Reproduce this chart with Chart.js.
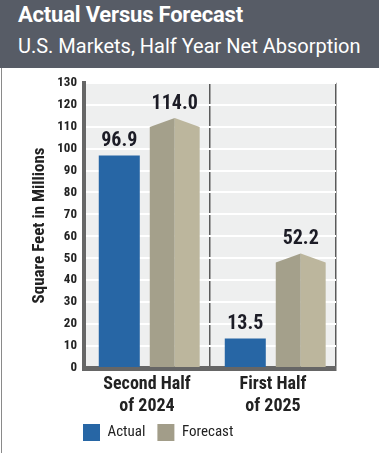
<!DOCTYPE html>
<html>
<head>
<meta charset="utf-8">
<script src="https://cdn.jsdelivr.net/npm/chart.js@4.4.1/dist/chart.umd.min.js"></script>
<style>
html, body { margin: 0; padding: 0; background: #fff; }
#head { position: absolute; left: 0; top: 0; width: 379px; height: 68px; background: #575c66; color: #fff; }
#t1 { position: absolute; left: 18px; top: 4px; font: bold 22px/22px Roboto, sans-serif; white-space: nowrap; letter-spacing: -0.2px; }
#t2 { position: absolute; left: 18px; top: 36px; font: 20px/20px Roboto, sans-serif; white-space: nowrap; }
#wrap { position: absolute; left: 1px; top: 68px; width: 377px; height: 385px; border-left: 1px solid #8a8a8a; }
</style>
</head>
<body>
<div id="head">
  <div id="t1">Actual Versus Forecast</div>
  <div id="t2">U.S. Markets, Half Year Net Absorption</div>
</div>
<div id="wrap"><canvas id="chart" width="377" height="385"></canvas></div>
<script>
// ---------------- DATA ----------------
const categories = [["Second Half", "of 2024"], ["First Half", "of 2025"]];
const seriesNames = ["Actual", "Forecast"];
const actual = [96.9, 13.5];
const forecast = [114.0, 52.2];
const yMin = 0, yMax = 130, yStep = 10;

// colours
const blue = "#2766a5";
const tanDark = "#a4a08b";
const tanLight = "#bcb69d";
const legendColors = [blue, "#a29d89"];
const COND = "'Roboto Condensed', 'Roboto', sans-serif";

// серый фон области графика
const plotBg = {
  id: "plotBg",
  beforeDraw(chart) {
    const { ctx, chartArea: a } = chart;
    ctx.save();
    ctx.fillStyle = "#eeefef";
    ctx.fillRect(a.left, a.top, a.right - a.left, a.bottom - a.top);
    ctx.restore();
  }
};

// forecast bars with a pointed two-tone top + value labels
const prism = {
  id: "prism",
  afterDatasetsDraw(chart) {
    const ctx = chart.ctx;
    ctx.save();
    chart.getDatasetMeta(1).data.forEach(bar => {
      const { x, y, base, width } = bar.getProps(["x", "y", "base", "width"], true);
      const l = x - width / 2, r = x + width / 2, sh = y + 9;
      ctx.fillStyle = tanDark;
      ctx.beginPath();
      ctx.moveTo(l, base); ctx.lineTo(l, sh); ctx.lineTo(x, y); ctx.lineTo(x, base);
      ctx.closePath(); ctx.fill();
      ctx.fillStyle = tanLight;
      ctx.beginPath();
      ctx.moveTo(x, base); ctx.lineTo(x, y); ctx.lineTo(r, sh); ctx.lineTo(r, base);
      ctx.closePath(); ctx.fill();
    });
    ctx.font = "bold 20px " + COND;
    ctx.fillStyle = "#1c1c26";
    ctx.textAlign = "center";
    ctx.textBaseline = "bottom";
    chart.data.datasets.forEach((ds, i) => {
      chart.getDatasetMeta(i).data.forEach((bar, j) => {
        const { x, y } = bar.getProps(["x", "y"], true);
        ctx.fillText(ds.data[j].toFixed(1), x, y - 4);
      });
    });
    ctx.restore();
  },
  afterLayout(chart) {
    if (chart.legend) chart.legend.left = 69;
  }
};

const chart = new Chart(document.getElementById("chart"), {
  type: "bar",
  data: {
    labels: categories,
    datasets: [
      { label: seriesNames[0], data: actual, backgroundColor: blue, barPercentage: 0.74, categoryPercentage: 0.88 },
      { label: seriesNames[1], data: forecast, backgroundColor: "rgba(0,0,0,0)", barPercentage: 0.9, categoryPercentage: 0.88 }
    ]
  },
  options: {
    responsive: false,
    animation: false,
    devicePixelRatio: 1,
    layout: { padding: { top: 14, right: 43, bottom: 2, left: 0 } },
    plugins: {
      tooltip: { enabled: false },
      legend: {
        position: "bottom",
        align: "start",
        labels: {
          boxWidth: 17, boxHeight: 17, padding: 12,
          color: "#222",
          font: { family: COND, size: 15 },
          generateLabels(chart) {
            return chart.data.datasets.map((d, i) => ({
              text: d.label, fillStyle: legendColors[i], strokeStyle: legendColors[i],
              lineWidth: 0, hidden: false, datasetIndex: i, fontColor: "#222"
            }));
          }
        }
      }
    },
    scales: {
      x: {
        z: 1,
        grid: { color: "#5a5a5a", lineWidth: 1.5, drawTicks: false, offset: true },
        border: { color: "#666", width: 5 },
        ticks: { color: "#222", padding: 6, font: { family: COND, size: 18, weight: "bold", lineHeight: 1.2 } },
        afterFit(s) { s.height = 44; }
      },
      y: {
        min: yMin, max: yMax,
        grid: { color: "#ffffff", lineWidth: 2, drawTicks: false },
        border: { color: "#666", width: 4 },
        ticks: { stepSize: yStep, color: "#222", padding: 7, font: { family: COND, size: 13, weight: "bold" } },
        title: {
          display: true, text: "Square Feet in Millions", color: "#222",
          font: { family: COND, size: 17, weight: "bold" }, padding: { top: 28, bottom: 0 }
        },
        afterFit(s) { s.width = 82; }
      }
    }
  },
  plugins: [plotBg, prism]
});
</script>
</body>
</html>
